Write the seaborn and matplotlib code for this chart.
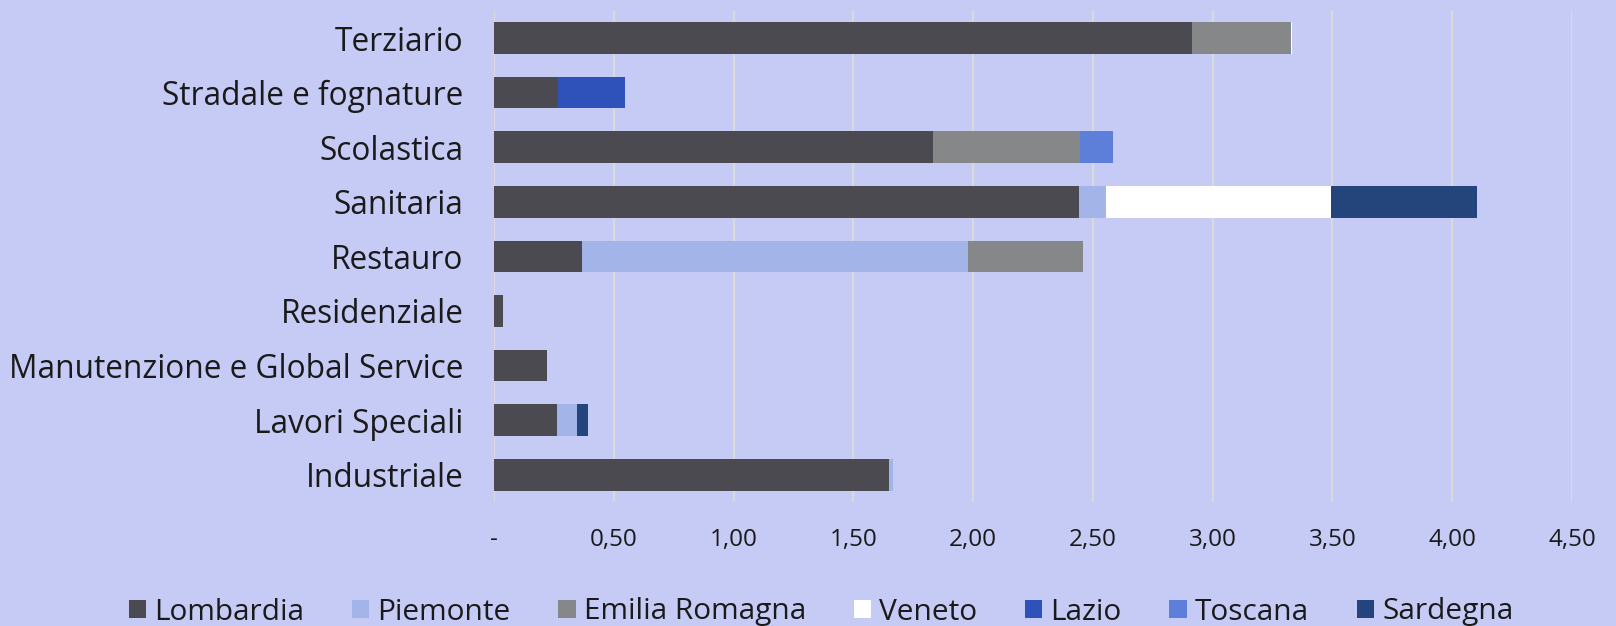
import matplotlib
matplotlib.use("Agg")
import matplotlib.pyplot as plt
from matplotlib.patches import Patch
import seaborn as sns
import numpy as np
import pandas as pd

categories = ["Terziario", "Stradale e fognature", "Scolastica", "Sanitaria", "Restauro",
              "Residenziale", "Manutenzione e Global Service", "Lavori Speciali", "Industriale"]

lombardia = [2.915, 0.267, 1.832, 2.442, 0.366, 0.039, 0.220, 0.261, 1.650]
piemonte  = [0.000, 0.000, 0.000, 0.114, 1.612, 0.000, 0.000, 0.084, 0.015]
emilia    = [0.410, 0.000, 0.616, 0.000, 0.479, 0.000, 0.000, 0.000, 0.000]
veneto    = [0.007, 0.000, 0.000, 0.936, 0.000, 0.000, 0.000, 0.000, 0.000]
lazio     = [0.000, 0.280, 0.000, 0.000, 0.000, 0.000, 0.000, 0.000, 0.000]
toscana   = [0.000, 0.000, 0.138, 0.000, 0.000, 0.000, 0.000, 0.000, 0.000]
sardegna  = [0.000, 0.000, 0.000, 0.612, 0.000, 0.000, 0.000, 0.046, 0.000]

series_names = ["Lombardia", "Piemonte", "Emilia Romagna", "Veneto", "Lazio", "Toscana", "Sardegna"]
series_vals = [lombardia, piemonte, emilia, veneto, lazio, toscana, sardegna]
colors = ["#4B4A50", "#A2B4E8", "#858789", "#FFFFFF", "#2E52B9", "#5E7FD9", "#24457C"]

xticks = [0, 0.5, 1.0, 1.5, 2.0, 2.5, 3.0, 3.5, 4.0, 4.5]
xticklabels = ["-", "0,50", "1,00", "1,50", "2,00", "2,50", "3,00", "3,50", "4,00", "4,50"]

BG = "#C5CBF5"
sns.set_theme(style="white")
plt.rcParams["font.family"] = ["Open Sans", "DejaVu Sans"]

fig = plt.figure(figsize=(16.16, 6.26), dpi=100, facecolor=BG)
ax = fig.add_axes([494/1616, 1 - 502/626, (1572-494)/1616, (502-10.8)/626])
ax.set_facecolor(BG)

cum = np.cumsum(np.array(series_vals), axis=0)
for i in range(len(series_names) - 1, -1, -1):
    df = pd.DataFrame({"cat": categories, "val": cum[i]})
    sns.barplot(data=df, x="val", y="cat", color=colors[i], orient="h",
                width=0.58, saturation=1, linewidth=0, ax=ax, zorder=3)

ax.set_xlim(0, 4.5)
ax.set_xticks(xticks)
ax.set_xticklabels(xticklabels)
ax.set_xlabel("")
ax.set_ylabel("")
for s in ax.spines.values():
    s.set_visible(False)
ax.grid(axis="x", color="#D9D9D9", linewidth=1.6, zorder=0)
ax.grid(axis="y", visible=False)
ax.set_axisbelow(True)
ax.tick_params(axis="x", length=0, pad=19, labelsize=17.5, labelcolor="#1a1a1a")
ax.tick_params(axis="y", length=0, pad=22, labelsize=22.8, labelcolor="#1a1a1a")

handles = [Patch(facecolor=c, edgecolor="none") for c in colors]
leg = fig.legend(handles, series_names, loc="center", bbox_to_anchor=(821/1616, 1 - 612/626),
                 ncol=7, frameon=False, fontsize=21.5, handlelength=0.58, handleheight=0.58,
                 handletextpad=0.27, columnspacing=1.6, borderpad=0, borderaxespad=0)
for t in leg.get_texts():
    t.set_color("#1a1a1a")

fig.savefig("out.png", dpi=100, facecolor=BG)
